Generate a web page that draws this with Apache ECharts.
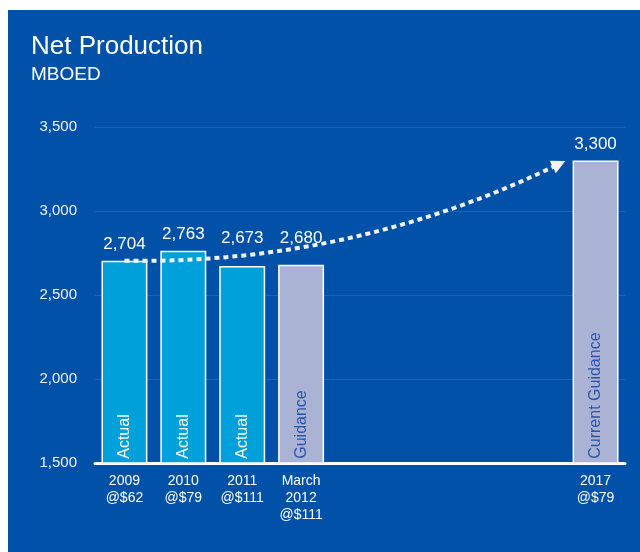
<!DOCTYPE html>
<html>
<head>
<meta charset="utf-8">
<script src="https://cdn.jsdelivr.net/npm/echarts@6/dist/echarts.min.js"></script>
<style>
  html, body { margin: 0; padding: 0; background: #fff; }
  #chart {
    position: absolute;
    left: 8px;
    top: 10px;
    width: 632px;
    height: 542px;
    background: #0151a8;
  }
</style>
</head>
<body>
<div id="chart"></div>
<script>
// data
const categories = ['2009\n@$62', '2010\n@$79', '2011\n@$111', 'March\n2012\n@$111', '', '', '', '', '2017\n@$79']
const production = [2704, 2763, 2673, 2680, null, null, null, null, 3300]
const barNotes = ['Actual', 'Actual', 'Actual', 'Guidance', '', '', '', '', 'Current Guidance']
const barKinds = ['actual', 'actual', 'actual', 'guidance', '', '', '', '', 'guidance']
const yTicks = { min: 1500, max: 3500, interval: 500 }
// trend arrow: [category position, value]
const trendFrom = [0, 2704]
const trendTo = [7.38, 3280]

const colors = {
  actual: '#00a0da',
  guidance: '#abb3d4'
}
// extra lift for labels sitting under the arrow
const labelGap = [8, 8, 19, 18, 8, 8, 8, 8, 8]

const chart = echarts.init(document.getElementById('chart'))

chart.setOption({
  animation: false,
  title: {
    text: 'Net Production',
    subtext: 'MBOED',
    left: 18,
    top: 19,
    itemGap: 5,
    textStyle: { color: '#fff', fontSize: 26, fontWeight: 'normal', fontFamily: 'Liberation Sans' },
    subtextStyle: { color: '#fff', fontSize: 19, fontFamily: 'Liberation Sans' }
  },
  grid: {
    left: 87,
    right: 15,
    top: 117,
    bottom: 89
  },
  xAxis: [
    {
      type: 'category',
      data: categories,
      axisTick: { show: false },
      axisLine: { show: true, lineStyle: { color: '#fff', width: 3 } },
      axisLabel: {
        color: '#fff',
        fontSize: 14,
        lineHeight: 17,
        margin: 10,
        fontFamily: 'Liberation Sans',
        interval: 0
      }
    },
    {
      type: 'value',
      min: -0.5,
      max: 8.5,
      show: false
    }
  ],
  yAxis: {
    type: 'value',
    min: yTicks.min,
    max: yTicks.max,
    interval: yTicks.interval,
    axisLine: { show: false },
    axisTick: { show: false },
    splitLine: { lineStyle: { color: '#1b63b8', width: 1 } },
    axisLabel: {
      color: '#eef2fa',
      fontSize: 15,
      margin: 18,
      fontFamily: 'Liberation Sans',
      formatter: v => v.toLocaleString('en-US')
    }
  },
  series: [
    {
      type: 'bar',
      barWidth: '78%',
      data: production.map((v, i) => ({
        value: v,
        itemStyle: { color: colors[barKinds[i]] || colors.actual, borderColor: '#fff', borderWidth: 1.5 },
        label: {
          show: true,
          position: 'insideBottom',
          rotate: 90,
          align: 'left',
          verticalAlign: 'middle',
          distance: 5,
          fontSize: 16,
          fontFamily: 'Liberation Sans',
          color: barKinds[i] === 'guidance' ? '#2a55a8' : '#fff',
          formatter: () => barNotes[i]
        }
      })),
      z: 2
    },
    {
      // value labels above bars
      type: 'bar',
      barWidth: '78%',
      barGap: '-100%',
      data: production.map((v, i) => ({
        value: v,
        label: { distance: labelGap[i] }
      })),
      itemStyle: { color: 'transparent' },
      label: {
        show: true,
        position: 'top',
        fontSize: 17,
        fontFamily: 'Liberation Sans',
        color: '#fff',
        formatter: p => p.value.toLocaleString('en-US')
      },
      silent: true,
      z: 1
    },
    {
      type: 'lines',
      coordinateSystem: 'cartesian2d',
      xAxisIndex: 1,
      yAxisIndex: 0,
      symbol: ['none', 'triangle'],
      symbolSize: [14, 14],
      lineStyle: {
        color: '#f2f2f2',
        width: 4,
        type: [5, 4],
        curveness: -0.12,
        opacity: 1
      },
      data: [{ coords: [trendFrom, trendTo] }],
      z: 5
    }
  ]
})
</script>
</body>
</html>
